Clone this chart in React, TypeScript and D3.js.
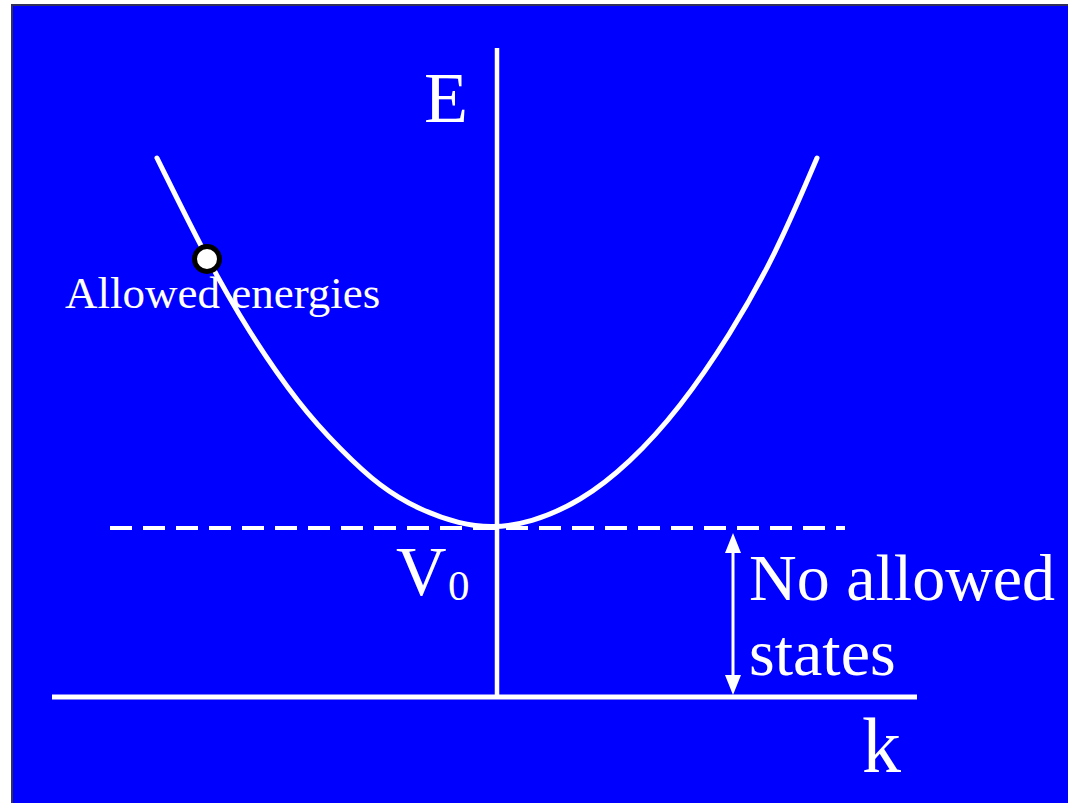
import React from "react";
import * as d3 from "d3";

// Curve points (k, E) in arbitrary units
const curveK = [-3.4, -2.9, -2.49, -1.97, -1.57, -1.17, -0.77, -0.37, -0.05, 0.33, 0.83, 1.33, 1.83, 2.33, 2.78, 3.2];
const curveE = [5.39, 4.38, 3.66, 2.91, 2.48, 2.1, 1.87, 1.73, 1.69, 1.74, 1.95, 2.34, 2.89, 3.62, 4.41, 5.39];

const V0 = 1.69;
const kAxisRange = [-4.45, 4.2];
const eAxisMax = 6.49;
const v0LineRange = [-3.87, 3.48];
const arrowK = 2.36;
const markerPoint = { k: -2.9, E: 4.38 };

const labels = {
  E: "E",
  k: "k",
  V: "V",
  sub: "0",
  allowed: "Allowed energies",
  noAllowed1: "No allowed",
  noAllowed2: "states",
};

export default function App() {
  const W = 1068;
  const H = 803;
  const x = d3.scaleLinear().domain([0, 1]).range([497, 597]);
  const y = d3.scaleLinear().domain([0, 1]).range([697, 597]);

  const pts: [number, number][] = curveK.map((k, i) => [k, curveE[i]]);
  const line = d3
    .line<[number, number]>()
    .x((d) => x(d[0]))
    .y((d) => y(d[1]))
    .curve(d3.curveBasis);

  const ax = x(arrowK);
  const yTop = y(V0) + 5;
  const yBot = y(0) - 2;
  const headL = 20;
  const headW = 8;

  const font = "'Liberation Serif', 'Times New Roman', serif";

  return (
    <svg
      width={W}
      height={H}
      style={{ position: "absolute", left: 0, top: 0 }}
    >
      <rect x={0} y={0} width={W} height={H} fill="#ffffff" />
      <rect x={11} y={4} width={W - 11} height={H - 4} fill="#30305a" />
      <rect x={13} y={6} width={W - 13} height={H - 6} fill="#0000ff" />

      {/* k axis */}
      <line
        x1={x(kAxisRange[0])}
        x2={x(kAxisRange[1])}
        y1={y(0)}
        y2={y(0)}
        stroke="#fff"
        strokeWidth={5}
      />
      {/* E axis */}
      <line
        x1={x(0)}
        x2={x(0)}
        y1={y(0)}
        y2={y(eAxisMax)}
        stroke="#fff"
        strokeWidth={4.5}
      />
      {/* V0 dashed line */}
      <line
        x1={x(v0LineRange[0])}
        x2={x(v0LineRange[1])}
        y1={y(V0)}
        y2={y(V0)}
        stroke="#fff"
        strokeWidth={4}
        strokeDasharray="22 11"
      />
      {/* parabola */}
      <path
        d={line(pts) || ""}
        fill="none"
        stroke="#fff"
        strokeWidth={5}
        strokeLinecap="round"
      />

      {/* double arrow */}
      <line
        x1={ax}
        x2={ax}
        y1={yTop + headL - 2}
        y2={yBot - headL + 2}
        stroke="#fff"
        strokeWidth={3}
      />
      <path
        d={`M${ax},${yTop} L${ax - headW},${yTop + headL} L${ax + headW},${yTop + headL} Z`}
        fill="#fff"
      />
      <path
        d={`M${ax},${yBot} L${ax - headW},${yBot - headL} L${ax + headW},${yBot - headL} Z`}
        fill="#fff"
      />

      {/* texts */}
      <text x={424} y={122} fontFamily={font} fontSize={72} fill="#fff">
        {labels.E}
      </text>
      <text x={862} y={772} fontFamily={font} fontSize={78} fill="#fff">
        {labels.k}
      </text>
      <text x={396} y={595} fontFamily={font} fontSize={70} fill="#fff">
        {labels.V}
      </text>
      <text x={448} y={600} fontFamily={font} fontSize={43} fill="#fff">
        {labels.sub}
      </text>
      <text x={65} y={308} fontFamily={font} fontSize={45} fill="#fff">
        {labels.allowed}
      </text>
      <text x={749} y={600} fontFamily={font} fontSize={66} fill="#fff">
        {labels.noAllowed1}
      </text>
      <text x={749} y={675} fontFamily={font} fontSize={66} fill="#fff">
        {labels.noAllowed2}
      </text>

      {/* marker */}
      <circle
        cx={x(markerPoint.k)}
        cy={y(markerPoint.E)}
        r={12.5}
        fill="#fff"
        stroke="#000"
        strokeWidth={5}
      />
    </svg>
  );
}
